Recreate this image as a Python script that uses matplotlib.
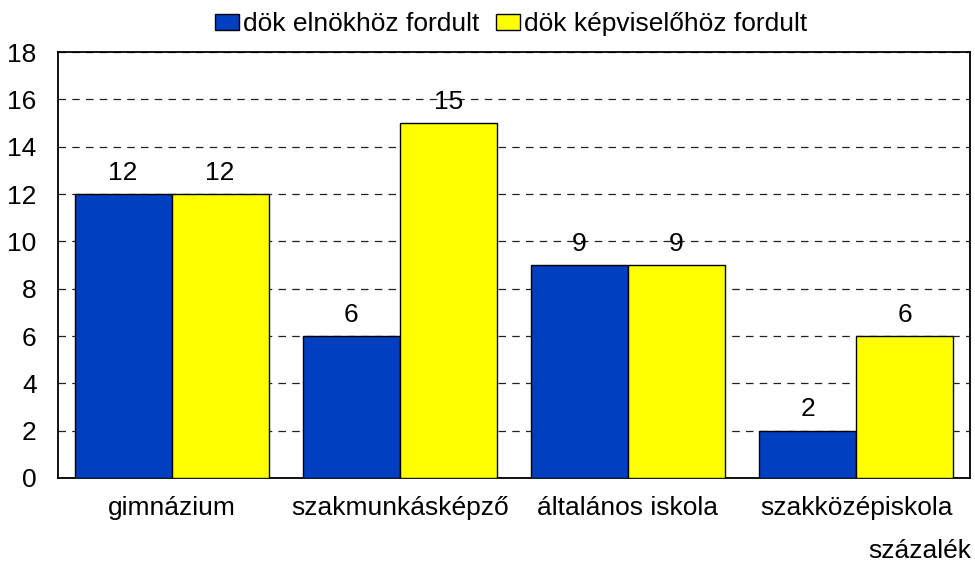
import numpy as np
import matplotlib.pyplot as plt

plt.rcParams['font.family'] = ['Liberation Sans', 'DejaVu Sans']

# Adatok
kategoriak = ['gimnázium', 'szakmunkásképző', 'általános iskola', 'szakközépiskola']
elnok      = [12, 6, 9, 2]
kepviselo  = [12, 15, 9, 6]
sorozatok  = ['dök elnökhöz fordult', 'dök képviselőhöz fordult']

fs = 19

fig = plt.figure(figsize=(9.75, 5.64), dpi=100)
ax = fig.add_axes([0.059, 0.1525, 0.936, 0.755])

x = np.arange(len(kategoriak))
w = 0.425

b1 = ax.bar(x - w/2, elnok, w, color='#0040C0', edgecolor='black', linewidth=1, label=sorozatok[0], zorder=3)
b2 = ax.bar(x + w/2, kepviselo, w, color='#FFFF00', edgecolor='black', linewidth=1, label=sorozatok[1], zorder=3)

for bars in (b1, b2):
    for r in bars:
        ax.text(r.get_x() + r.get_width()/2, r.get_height() + 0.9, f'{int(r.get_height())}',
                ha='center', va='center', fontsize=fs, zorder=4)

ax.set_xlim(-0.5, len(kategoriak) - 0.5)
ax.set_ylim(0, 18)
ax.set_yticks(np.arange(0, 19, 2))
ax.yaxis.grid(True, linestyle=(0, (6, 5)), color='#222222', linewidth=0.9, zorder=0)
ax.set_xticks(x)
ax.set_xticklabels(kategoriak)
ax.tick_params(axis='both', length=0, labelsize=fs)
ax.tick_params(axis='x', pad=13)
ax.tick_params(axis='y', pad=15)
for s in ax.spines.values():
    s.set_linewidth(1.3)

# tengelyfelirat jobb alul
fig.text(971/975, 1 - 558/564, 'százalék', ha='right', va='baseline', fontsize=fs)

ax.legend(loc='center', bbox_to_anchor=(0.497, 1 + (52 - 24) / 426), ncol=2, frameon=False, fontsize=fs,
          handlelength=0.9, handleheight=0.58, handletextpad=0.15, columnspacing=0.65,
          borderaxespad=0, borderpad=0)

plt.savefig('out.png', dpi=100)
